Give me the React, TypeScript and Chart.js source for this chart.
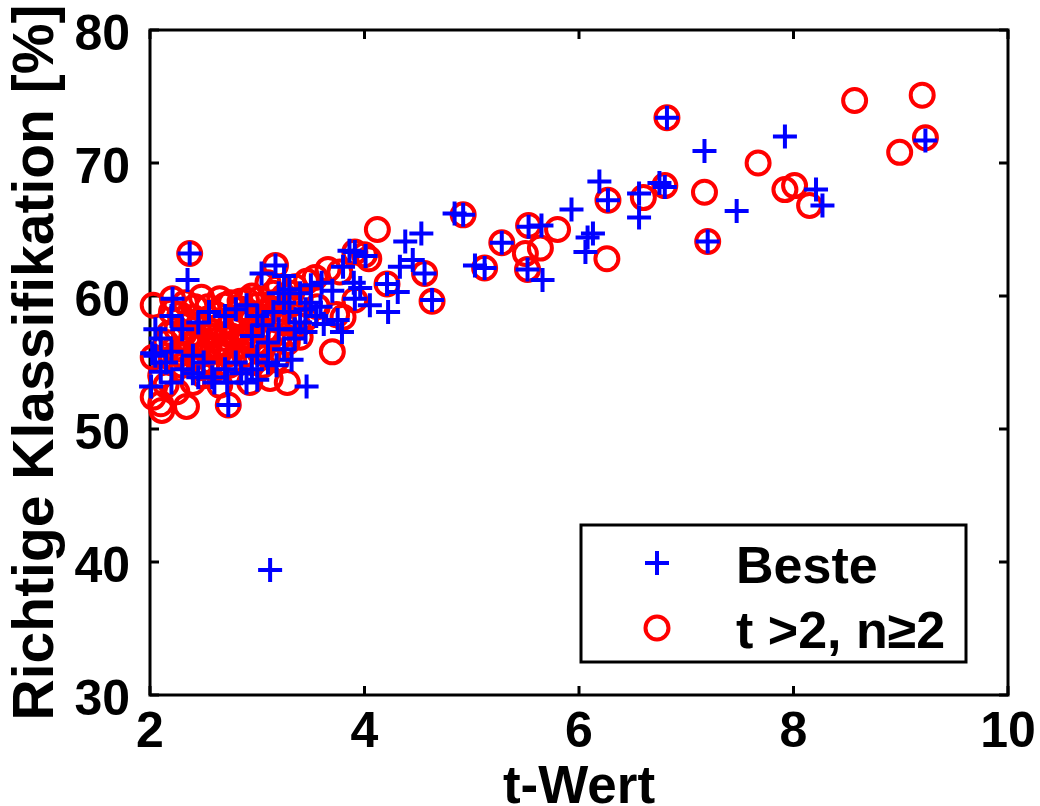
import React, { useEffect, useRef } from 'react';
import { Chart, registerables } from 'chart.js';

Chart.register(...registerables);

// ---- data ----
const xTicks = [2, 4, 6, 8, 10];
const yTicks = [30, 40, 50, 60, 70, 80];

const besteLabel = 'Beste';
const besteX = [
  3.12, 6.82, 7.17, 7.92, 9.23, 6.75, 6.80, 7.47, 7.20, 8.21, 8.27, 6.19, 6.27, 6.56, 6.56, 6.13,
  6.08, 6.06, 5.93, 5.53, 5.65, 5.52, 5.66, 5.28, 5.12, 5.03, 4.92, 4.84, 4.53, 4.38, 4.56, 4.63,
  4.45, 4.33, 4.21, 4.31, 4.22, 4.05, 3.91, 3.91, 4.01, 3.86, 3.90, 3.96, 3.80, 3.75, 3.79, 3.70,
  3.59, 3.46, 3.32, 3.18, 3.17, 3.04, 2.37, 2.35, 2.21, 2.02, 2.01, 2.73, 2.72, 2.90, 2.58, 2.45,
  2.05, 2.10, 2.20, 2.30, 2.70, 2.80, 2.90, 3.00, 3.20, 3.25, 3.30, 3.35, 3.40, 3.45,
  3.50, 3.55, 3.30, 3.20, 3.10, 3.00, 2.80, 2.70, 2.40, 2.30, 2.20, 2.15,
  2.45, 2.55, 2.95, 3.05, 3.15, 3.25, 3.35, 3.00, 2.95, 3.10, 2.60, 2.40,
  2.50, 2.20, 2.10, 3.40, 3.50, 3.60, 3.45, 3.62, 3.25, 2.05, 2.85,
];
const besteY = [
  39.4, 73.4, 70.9, 72.0, 71.7, 68.5, 68.2, 66.4, 64.1, 68.0, 66.8, 68.6, 67.2, 67.7, 65.9, 64.7,
  64.4, 63.3, 66.5, 65.2, 65.3, 62.0, 61.2, 64.0, 62.1, 62.3, 66.1, 66.2, 64.7, 64.1, 61.7, 59.7,
  62.7, 62.2, 60.9, 60.3, 58.8, 59.3, 59.8, 63.3, 63.0, 63.4, 61.0, 60.6, 62.2, 58.2, 57.3, 60.4,
  59.2, 53.2, 55.2, 54.8, 62.3, 61.7, 63.2, 61.2, 59.8, 55.7, 53.2, 51.8, 53.5, 53.5, 53.9, 53.9,
  55.5, 54.3, 58.5, 57.5, 58.5, 59.0, 59.3, 58.5, 60.2, 59.5, 58.8, 57.5, 58.0, 57.3,
  59.5, 58.5, 60.5, 57.5, 56.5, 55.5, 55.0, 54.5, 55.5, 54.5, 53.5, 55.0,
  58.0, 58.8, 57.0, 57.8, 58.8, 56.0, 56.8, 53.7, 54.5, 55.0, 53.5, 54.2,
  55.0, 55.8, 56.8, 60.2, 60.8, 61.0, 59.0, 57.9, 61.5, 57.5, 54.2,
];

const t2Label = 't >2, n\u22652';
const t2X = [
  6.82, 7.67, 8.57, 9.20, 8.99, 9.23, 6.80, 7.17, 7.92, 8.01, 8.15, 6.60, 6.27, 7.20, 6.26, 5.80,
  5.53, 5.50, 5.64, 5.52, 5.28, 5.12, 4.92, 4.56, 4.63, 4.12, 4.21, 4.00, 4.04, 3.91, 3.91, 3.80,
  3.77, 3.70, 3.66, 3.54, 3.46, 3.35, 3.56, 3.74, 3.40, 3.28, 3.17, 2.37, 2.03, 2.21, 2.48, 2.20,
  2.03, 2.03, 2.10, 2.11, 2.34, 2.73, 2.93,
  2.15, 2.25, 2.30, 2.35, 2.40, 2.45, 2.50, 2.55, 2.60, 2.65, 2.70, 2.75, 2.80, 2.85, 2.90, 2.95,
  3.00, 3.05, 3.10, 3.15, 3.20, 3.25, 3.30, 3.35, 3.20, 3.10, 2.95, 2.85, 2.60, 2.50, 2.40, 2.30,
  2.20, 2.10, 2.15, 2.25, 3.00, 3.10, 3.25, 2.70, 2.45, 2.55, 2.78, 3.05, 3.12, 2.35, 2.65, 3.40,
  3.45, 3.30, 2.95, 2.75,
  2.28, 2.42, 2.52, 2.62, 2.68, 2.82, 2.88, 2.98, 3.08, 3.18, 3.22, 3.28, 3.38, 2.58, 2.72, 2.48,
  2.38, 2.18, 2.92, 3.02, 3.15, 2.65, 2.33, 3.32, 2.88, 3.18,
  2.22, 2.32, 2.44, 2.56, 2.66, 2.76, 2.86, 2.96, 3.06, 3.14, 2.54, 2.84, 3.12, 2.40, 2.62, 2.92,
  3.02, 2.74, 2.46, 2.27,
];
const t2Y = [
  73.4, 70.0, 74.7, 75.1, 70.8, 71.9, 68.3, 67.8, 68.0, 68.3, 66.8, 67.4, 67.2, 64.1, 62.8, 65.0,
  65.3, 63.2, 63.6, 62.0, 64.0, 62.1, 66.1, 61.7, 59.6, 65.0, 60.9, 63.1, 62.8, 63.3, 59.7, 58.4,
  61.8, 55.8, 62.0, 61.4, 61.1, 60.7, 59.2, 58.6, 56.9, 53.5, 62.3, 63.2, 59.3, 59.8, 59.9, 58.8,
  55.4, 52.4, 51.9, 51.4, 51.7, 51.8, 53.5,
  56.5, 57.5, 56.0, 58.0, 57.0, 55.5, 56.5, 58.3, 57.3, 55.8, 56.8, 58.0, 57.5, 59.0, 59.7, 58.2,
  57.0, 56.0, 58.8, 59.5, 60.7, 58.0, 59.3, 58.5, 56.8, 55.5, 55.0, 56.3, 54.5, 54.0, 53.5, 54.8,
  55.3, 54.0, 53.3, 52.8, 59.3, 61.0, 60.0, 59.3, 57.8, 56.2, 55.2, 54.8, 53.8, 55.2, 53.3, 59.8,
  58.3, 57.2, 60.0, 59.5,
  58.6, 59.2, 57.6, 58.6, 56.2, 58.4, 57.0, 56.4, 57.4, 58.2, 59.0, 56.5, 57.8, 55.0, 55.6, 55.0,
  56.4, 57.2, 58.8, 59.8, 60.2, 59.8, 59.5, 60.2, 55.6, 55.2,
  56.0, 57.2, 56.2, 57.0, 57.8, 57.0, 58.0, 57.6, 58.4, 57.0, 59.2, 59.6, 59.0, 58.4, 56.2, 56.8,
  55.8, 54.8, 54.6, 55.6,
];

const FONT = "'Liberation Sans', Arial, Helvetica, sans-serif";
const BLUE = '#0000ff';
const RED = '#ff0000';

const toPoints = (xs: number[], ys: number[]) => xs.map((x, i) => ({ x, y: ys[i] }));

const framePlugin = {
  id: 'matlabFrame',
  beforeDatasetsDraw(chart: any) {
    const { ctx, chartArea, scales } = chart;
    const { left, right, top, bottom } = chartArea;
    ctx.save();
    ctx.strokeStyle = '#000';
    ctx.lineWidth = 3;
    ctx.strokeRect(left, top, right - left, bottom - top);
    const tl = 9;
    ctx.beginPath();
    xTicks.forEach((v) => {
      const px = scales.x.getPixelForValue(v);
      ctx.moveTo(px, bottom);
      ctx.lineTo(px, bottom - tl);
      ctx.moveTo(px, top);
      ctx.lineTo(px, top + tl);
    });
    yTicks.forEach((v) => {
      const py = scales.y.getPixelForValue(v);
      ctx.moveTo(left, py);
      ctx.lineTo(left + tl, py);
      ctx.moveTo(right, py);
      ctx.lineTo(right - tl, py);
    });
    ctx.stroke();
    ctx.restore();
  },
};

const legendPlugin = {
  id: 'matlabLegend',
  afterDraw(chart: any) {
    const { ctx } = chart;
    const bx = 581, by = 525, bw = 385, bh = 137;
    ctx.save();
    ctx.fillStyle = '#fff';
    ctx.fillRect(bx, by, bw, bh);
    ctx.strokeStyle = '#000';
    ctx.lineWidth = 3;
    ctx.strokeRect(bx, by, bw, bh);
    const mx = 657;
    const rows = [563, 628];
    chart.data.datasets.forEach((ds: any, i: number) => {
      const cy = rows[i];
      ctx.strokeStyle = ds.borderColor;
      ctx.lineWidth = ds.borderWidth;
      ctx.beginPath();
      if (ds.pointStyle === 'cross') {
        const r = 12;
        ctx.moveTo(mx - r, cy);
        ctx.lineTo(mx + r, cy);
        ctx.moveTo(mx, cy - r);
        ctx.lineTo(mx, cy + r);
      } else {
        ctx.arc(mx, cy, 11.5, 0, Math.PI * 2);
      }
      ctx.stroke();
      ctx.fillStyle = '#000';
      ctx.font = `bold 52px ${FONT}`;
      ctx.textAlign = 'left';
      ctx.textBaseline = 'alphabetic';
      ctx.fillText(ds.label, 736, cy + 20);
    });
    ctx.restore();
  },
};

export default function App() {
  const ref = useRef<HTMLCanvasElement>(null);
  useEffect(() => {
    if (!ref.current) return;
    const chart = new Chart(ref.current, {
      type: 'scatter',
      data: {
        datasets: [
          {
            label: besteLabel,
            data: toPoints(besteX, besteY),
            pointStyle: 'cross',
            pointRadius: 12,
            pointHoverRadius: 12,
            borderColor: BLUE,
            backgroundColor: BLUE,
            borderWidth: 4,
            clip: false,
          } as any,
          {
            label: t2Label,
            data: toPoints(t2X, t2Y),
            pointStyle: 'circle',
            pointRadius: 11.5,
            pointHoverRadius: 11.5,
            borderColor: RED,
            backgroundColor: 'rgba(0,0,0,0)',
            borderWidth: 4,
            clip: false,
          } as any,
        ],
      },
      options: {
        responsive: false,
        animation: false,
        events: [],
        layout: { padding: { top: 30, right: 32, left: 0, bottom: 0 } },
        plugins: {
          legend: { display: false },
          tooltip: { enabled: false },
        },
        scales: {
          x: {
            type: 'linear',
            min: 2,
            max: 10,
            afterFit: (s: any) => {
              s.height = 111;
              s.paddingLeft = 0;
              s.paddingRight = 0;
            },
            afterBuildTicks: (s: any) => {
              s.ticks = xTicks.map((v) => ({ value: v }));
            },
            grid: { display: false, drawTicks: false },
            border: { display: false },
            ticks: {
              color: '#000',
              padding: 8,
              maxRotation: 0,
              font: { family: FONT, size: 50, weight: 'bold' },
            },
            title: {
              display: true,
              text: 't-Wert',
              color: '#000',
              font: { family: FONT, size: 53, weight: 'bold', lineHeight: 1 },
              padding: { top: 0, bottom: -9 },
            },
          },
          y: {
            type: 'linear',
            min: 30,
            max: 80,
            afterFit: (s: any) => {
              s.width = 150;
              s.paddingTop = 0;
              s.paddingBottom = 0;
            },
            afterBuildTicks: (s: any) => {
              s.ticks = yTicks.map((v) => ({ value: v }));
            },
            grid: { display: false, drawTicks: false },
            border: { display: false },
            ticks: {
              color: '#000',
              padding: 20,
              labelOffset: 6,
              font: { family: FONT, size: 50, weight: 'bold' },
            },
            title: {
              display: true,
              text: 'Richtige Klassifikation [%]',
              color: '#000',
              font: { family: FONT, size: 57, weight: 'bold', lineHeight: 1 },
              padding: { top: 9, bottom: 0 },
            },
          },
        },
      } as any,
      plugins: [framePlugin, legendPlugin],
    });
    return () => chart.destroy();
  }, []);
  return (
    <div style={{ position: 'absolute', left: 0, top: 0, width: 1040, height: 806, background: '#fff' }}>
      <canvas ref={ref} width={1040} height={806} />
    </div>
  );
}
